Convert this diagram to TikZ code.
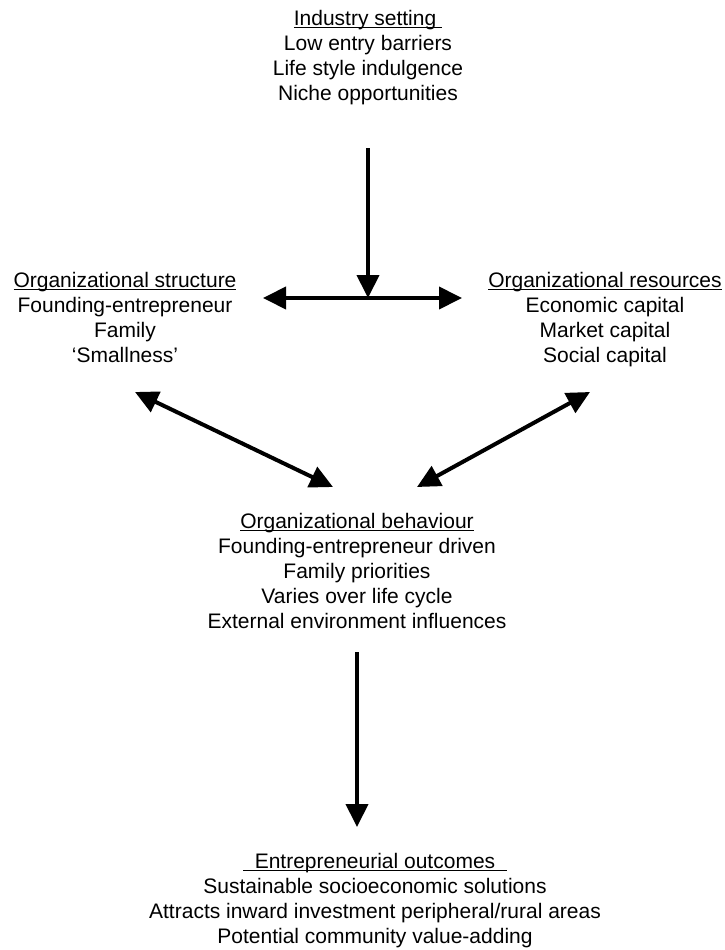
\documentclass[tikz,border=0pt]{standalone}
\usepackage{fontspec}
\setmainfont{Liberation Sans}
\usetikzlibrary{arrows.meta}
\usetikzlibrary{positioning}

\newsavebox{\undlbox}
\newcommand{\undl}[1]{\sbox{\undlbox}{#1}\rlap{\rule[-2.5pt]{\wd\undlbox}{1.2pt}}\usebox{\undlbox}}

\begin{document}
\begin{tikzpicture}[x=1pt,y=-1pt,
 block/.style={align=center,inner sep=0pt,anchor=north,
               font=\fontsize{21}{25}\selectfont},
 arr/.style={line width=4pt,-{Triangle[length=23pt,width=22pt]}},
 darr/.style={line width=4pt,
              {Triangle[length=23pt,width=22pt]}-{Triangle[length=23pt,width=22pt]}}]
 \useasboundingbox (0,0) rectangle (725,950);

 \node[block] (ind) at (368,10)
  {\undl{Industry setting\ }\\Low entry barriers\\Life style indulgence\\Niche opportunities};
 \node[block] (str) at (125,272)
  {\undl{Organizational structure}\\Founding-entrepreneur\\Family\\`Smallness'};
 \node[block] (res) at (605,272)
  {\undl{Organizational resources}\\Economic capital\\Market capital\\Social capital};
 \node[block] (beh) at (357,513)
  {\undl{Organizational behaviour}\\Founding-entrepreneur driven\\Family priorities\\Varies over life cycle\\External environment influences};
 \node[block] (out) at (375,853)
  {\undl{\ \ Entrepreneurial outcomes\ \ }\\Sustainable socioeconomic solutions\\Attracts inward investment peripheral/rural areas\\Potential community value-adding};

 \coordinate (ind-s) at (368,148);
 \coordinate (jn) at (368,298);
 \coordinate (jn-w) at (263,298);
 \coordinate (jn-e) at (462,298);
 \coordinate (str-s) at (135,392);
 \coordinate (res-s) at (590,392);
 \coordinate (beh-nw) at (333,487);
 \coordinate (beh-ne) at (417,487);
 \coordinate (beh-s) at (357,652);
 \coordinate (out-n) at (357,827);

 \draw[arr] (ind-s) -- (jn);
 \draw[darr] (jn-w) -- (jn-e);
 \draw[darr] (str-s) -- (beh-nw);
 \draw[darr] (res-s) -- (beh-ne);
 \draw[arr] (beh-s) -- (out-n);
\end{tikzpicture}
\end{document}
